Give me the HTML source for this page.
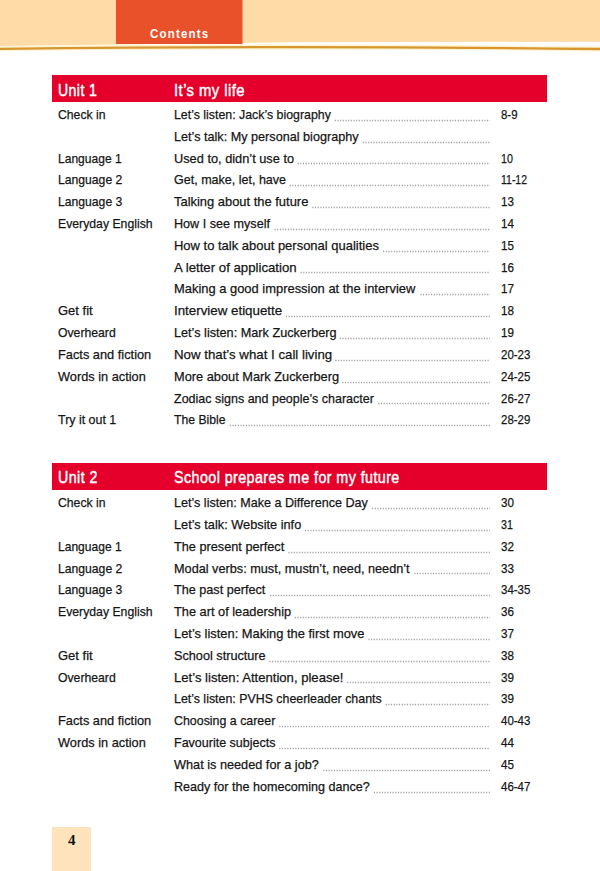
<!DOCTYPE html><html><head><meta charset="utf-8"><style>
*{margin:0;padding:0;box-sizing:border-box}
html,body{width:600px;height:871px;overflow:hidden;background:#fff}
body{position:relative;font-family:"Liberation Sans",sans-serif;color:#151515}
.t,.h{position:absolute;white-space:nowrap;line-height:1.117;transform-origin:0 0}
.t{font-size:13.5px;-webkit-text-stroke:0.25px #151515}
.h{font-size:16.5px;color:#fff;font-weight:normal;-webkit-text-stroke:0.45px #fff;letter-spacing:0.5px}
.bar{position:absolute;left:52px;width:495px;height:27px;background:#e4002b}
.dots{position:absolute;height:1px;background:repeating-linear-gradient(90deg,#a8a8a8 0 1px,transparent 1px 2.7px)}
</style></head><body>
<svg width="600" height="60" style="position:absolute;left:0;top:0">
<polygon points="0,0 600,0 600,41.7 290,42.3 0,46" fill="#fedba7"/>
<path d="M0,48.8 Q290,45.2 600,49" stroke="#fff4d2" stroke-width="5" fill="none"/>
<path d="M0,48.8 Q290,45.2 600,49" stroke="#d8962f" stroke-width="2.3" fill="none"/>
<rect x="116" y="0" width="126.5" height="44" fill="#e9512a"/>
</svg>
<div id="contents" style="position:absolute;left:150.3px;top:28.19px;font-size:12.5px;line-height:1.117;font-weight:bold;color:#fff;letter-spacing:1.3px;transform-origin:0 0;transform:scaleX(0.92)">Contents</div>
<div class="bar" style="top:75px"></div>
<div id="u1h1" class="h" style="left:57.7px;top:80.57px;transform:scaleX(0.8533);">Unit 1</div>
<div id="u1h2" class="h" style="left:174px;top:80.57px;transform:scaleX(0.8974);">It’s my life</div>
<div id="u1r0a" class="t" style="left:57.7px;top:106.88px;transform:scaleX(0.9044);">Check in</div>
<div id="u1r0b" class="t" style="left:174px;top:106.88px;transform:scaleX(0.9152);">Let’s listen: Jack’s biography</div>
<div id="u1r0c" class="t" style="left:500.5px;top:106.88px;transform:scaleX(0.8462);">8-9</div>
<div id="u1r1b" class="t" style="left:174px;top:128.70px;transform:scaleX(0.9365);">Let’s talk: My personal biography</div>
<div id="u1r2a" class="t" style="left:57.7px;top:150.52px;transform:scaleX(0.8920);">Language 1</div>
<div id="u1r2b" class="t" style="left:174px;top:150.52px;transform:scaleX(0.9468);">Used to, didn’t use to</div>
<div id="u1r2c" class="t" style="left:500.5px;top:150.52px;transform:scaleX(0.7931);">10</div>
<div id="u1r3a" class="t" style="left:57.7px;top:172.34px;transform:scaleX(0.9018);">Language 2</div>
<div id="u1r3b" class="t" style="left:174px;top:172.34px;transform:scaleX(0.9275);">Get, make, let, have</div>
<div id="u1r3c" class="t" style="left:500.5px;top:172.34px;transform:scaleX(0.7761);">11-12</div>
<div id="u1r4a" class="t" style="left:57.7px;top:194.16px;transform:scaleX(0.9018);">Language 3</div>
<div id="u1r4b" class="t" style="left:174px;top:194.16px;transform:scaleX(0.9571);">Talking about the future</div>
<div id="u1r4c" class="t" style="left:500.5px;top:194.16px;transform:scaleX(0.8621);">13</div>
<div id="u1r5a" class="t" style="left:57.7px;top:215.98px;transform:scaleX(0.9071);">Everyday English</div>
<div id="u1r5b" class="t" style="left:174px;top:215.98px;transform:scaleX(0.9340);">How I see myself</div>
<div id="u1r5c" class="t" style="left:500.5px;top:215.98px;transform:scaleX(0.8621);">14</div>
<div id="u1r6b" class="t" style="left:174px;top:237.80px;transform:scaleX(0.9615);">How to talk about personal qualities</div>
<div id="u1r6c" class="t" style="left:500.5px;top:237.80px;transform:scaleX(0.8621);">15</div>
<div id="u1r7b" class="t" style="left:174px;top:259.62px;transform:scaleX(0.9784);">A letter of application</div>
<div id="u1r7c" class="t" style="left:500.5px;top:259.62px;transform:scaleX(0.8621);">16</div>
<div id="u1r8b" class="t" style="left:174px;top:281.44px;transform:scaleX(0.9569);">Making a good impression at the interview</div>
<div id="u1r8c" class="t" style="left:500.5px;top:281.44px;transform:scaleX(0.8621);">17</div>
<div id="u1r9a" class="t" style="left:57.7px;top:303.26px;transform:scaleX(0.9614);">Get fit</div>
<div id="u1r9b" class="t" style="left:174px;top:303.26px;transform:scaleX(0.9872);">Interview etiquette</div>
<div id="u1r9c" class="t" style="left:500.5px;top:303.26px;transform:scaleX(0.8621);">18</div>
<div id="u1r10a" class="t" style="left:57.7px;top:325.08px;transform:scaleX(0.9052);">Overheard</div>
<div id="u1r10b" class="t" style="left:174px;top:325.08px;transform:scaleX(0.9390);">Let’s listen: Mark Zuckerberg</div>
<div id="u1r10c" class="t" style="left:500.5px;top:325.08px;transform:scaleX(0.8621);">19</div>
<div id="u1r11a" class="t" style="left:57.7px;top:346.90px;transform:scaleX(0.9486);">Facts and fiction</div>
<div id="u1r11b" class="t" style="left:174px;top:346.90px;transform:scaleX(0.9819);">Now that’s what I call living</div>
<div id="u1r11c" class="t" style="left:500.5px;top:346.90px;transform:scaleX(0.8493);">20-23</div>
<div id="u1r12a" class="t" style="left:57.7px;top:368.72px;transform:scaleX(0.9458);">Words in action</div>
<div id="u1r12b" class="t" style="left:174px;top:368.72px;transform:scaleX(0.9480);">More about Mark Zuckerberg</div>
<div id="u1r12c" class="t" style="left:500.5px;top:368.72px;transform:scaleX(0.8493);">24-25</div>
<div id="u1r13b" class="t" style="left:174px;top:390.54px;transform:scaleX(0.9259);">Zodiac signs and people’s character</div>
<div id="u1r13c" class="t" style="left:500.5px;top:390.54px;transform:scaleX(0.8493);">26-27</div>
<div id="u1r14a" class="t" style="left:57.7px;top:412.36px;transform:scaleX(0.9210);">Try it out 1</div>
<div id="u1r14b" class="t" style="left:174px;top:412.36px;transform:scaleX(0.9035);">The Bible</div>
<div id="u1r14c" class="t" style="left:500.5px;top:412.36px;transform:scaleX(0.8493);">28-29</div>
<div class="bar" style="top:463.3px"></div>
<div id="u2h1" class="h" style="left:57.7px;top:468.27px;transform:scaleX(0.8646);">Unit 2</div>
<div id="u2h2" class="h" style="left:174px;top:468.27px;transform:scaleX(0.8654);">School prepares me for my future</div>
<div id="u2r0a" class="t" style="left:57.7px;top:495.08px;transform:scaleX(0.9044);">Check in</div>
<div id="u2r0b" class="t" style="left:174px;top:495.08px;transform:scaleX(0.9317);">Let’s listen: Make a Difference Day</div>
<div id="u2r0c" class="t" style="left:500.5px;top:495.08px;transform:scaleX(0.8621);">30</div>
<div id="u2r1b" class="t" style="left:174px;top:516.90px;transform:scaleX(0.9455);">Let’s talk: Website info</div>
<div id="u2r1c" class="t" style="left:500.5px;top:516.90px;transform:scaleX(0.7931);">31</div>
<div id="u2r2a" class="t" style="left:57.7px;top:538.72px;transform:scaleX(0.8920);">Language 1</div>
<div id="u2r2b" class="t" style="left:174px;top:538.72px;transform:scaleX(0.9419);">The present perfect</div>
<div id="u2r2c" class="t" style="left:500.5px;top:538.72px;transform:scaleX(0.8621);">32</div>
<div id="u2r3a" class="t" style="left:57.7px;top:560.54px;transform:scaleX(0.9018);">Language 2</div>
<div id="u2r3b" class="t" style="left:174px;top:560.54px;transform:scaleX(0.9402);">Modal verbs: must, mustn’t, need, needn’t</div>
<div id="u2r3c" class="t" style="left:500.5px;top:560.54px;transform:scaleX(0.8621);">33</div>
<div id="u2r4a" class="t" style="left:57.7px;top:582.36px;transform:scaleX(0.9018);">Language 3</div>
<div id="u2r4b" class="t" style="left:174px;top:582.36px;transform:scaleX(0.9367);">The past perfect</div>
<div id="u2r4c" class="t" style="left:500.5px;top:582.36px;transform:scaleX(0.8493);">34-35</div>
<div id="u2r5a" class="t" style="left:57.7px;top:604.18px;transform:scaleX(0.9071);">Everyday English</div>
<div id="u2r5b" class="t" style="left:174px;top:604.18px;transform:scaleX(0.9463);">The art of leadership</div>
<div id="u2r5c" class="t" style="left:500.5px;top:604.18px;transform:scaleX(0.8621);">36</div>
<div id="u2r6b" class="t" style="left:174px;top:626.00px;transform:scaleX(0.9553);">Let’s listen: Making the first move</div>
<div id="u2r6c" class="t" style="left:500.5px;top:626.00px;transform:scaleX(0.8621);">37</div>
<div id="u2r7a" class="t" style="left:57.7px;top:647.82px;transform:scaleX(0.9614);">Get fit</div>
<div id="u2r7b" class="t" style="left:174px;top:647.82px;transform:scaleX(0.9392);">School structure</div>
<div id="u2r7c" class="t" style="left:500.5px;top:647.82px;transform:scaleX(0.8621);">38</div>
<div id="u2r8a" class="t" style="left:57.7px;top:669.64px;transform:scaleX(0.9052);">Overheard</div>
<div id="u2r8b" class="t" style="left:174px;top:669.64px;transform:scaleX(0.9701);">Let’s listen:  Attention, please!</div>
<div id="u2r8c" class="t" style="left:500.5px;top:669.64px;transform:scaleX(0.8621);">39</div>
<div id="u2r9b" class="t" style="left:174px;top:691.46px;transform:scaleX(0.9173);">Let’s listen: PVHS cheerleader chants</div>
<div id="u2r9c" class="t" style="left:500.5px;top:691.46px;transform:scaleX(0.8621);">39</div>
<div id="u2r10a" class="t" style="left:57.7px;top:713.28px;transform:scaleX(0.9486);">Facts and fiction</div>
<div id="u2r10b" class="t" style="left:174px;top:713.28px;transform:scaleX(0.9182);">Choosing a career</div>
<div id="u2r10c" class="t" style="left:500.5px;top:713.28px;transform:scaleX(0.8493);">40-43</div>
<div id="u2r11a" class="t" style="left:57.7px;top:735.10px;transform:scaleX(0.9458);">Words in action</div>
<div id="u2r11b" class="t" style="left:174px;top:735.10px;transform:scaleX(0.9266);">Favourite subjects</div>
<div id="u2r11c" class="t" style="left:500.5px;top:735.10px;transform:scaleX(0.8621);">44</div>
<div id="u2r12b" class="t" style="left:174px;top:756.92px;transform:scaleX(0.9416);">What is needed for a job?</div>
<div id="u2r12c" class="t" style="left:500.5px;top:756.92px;transform:scaleX(0.8621);">45</div>
<div id="u2r13b" class="t" style="left:174px;top:778.74px;transform:scaleX(0.9314);">Ready for the homecoming dance?</div>
<div id="u2r13c" class="t" style="left:500.5px;top:778.74px;transform:scaleX(0.8493);">46-47</div>

<svg width="600" height="871" style="position:absolute;left:0;top:0"><g class="dots" stroke="#9a9a9a" stroke-width="1.3" stroke-dasharray="1.1 1.57"><line x1="334.8" y1="120.5" x2="490" y2="120.5"/><line x1="362.8" y1="142.5" x2="490" y2="142.5"/><line x1="297.6" y1="163.5" x2="490" y2="163.5"/><line x1="289.6" y1="185.5" x2="490" y2="185.5"/><line x1="312.3" y1="207.5" x2="490" y2="207.5"/><line x1="274.5" y1="229.5" x2="490" y2="229.5"/><line x1="383.1" y1="251.5" x2="490" y2="251.5"/><line x1="300.6" y1="272.5" x2="490" y2="272.5"/><line x1="420.4" y1="294.5" x2="490" y2="294.5"/><line x1="285.9" y1="316.5" x2="490" y2="316.5"/><line x1="339.8" y1="338.5" x2="490" y2="338.5"/><line x1="335.4" y1="360.5" x2="490" y2="360.5"/><line x1="342.3" y1="382.5" x2="490" y2="382.5"/><line x1="378.3" y1="403.5" x2="490" y2="403.5"/><line x1="229.8" y1="425.5" x2="490" y2="425.5"/><line x1="372.1" y1="508.5" x2="490" y2="508.5"/><line x1="305.0" y1="530.5" x2="490" y2="530.5"/><line x1="288.5" y1="552.5" x2="490" y2="552.5"/><line x1="414.3" y1="573.5" x2="490" y2="573.5"/><line x1="270.1" y1="595.5" x2="490" y2="595.5"/><line x1="294.7" y1="617.5" x2="490" y2="617.5"/><line x1="368.4" y1="639.5" x2="490" y2="639.5"/><line x1="269.4" y1="661.5" x2="490" y2="661.5"/><line x1="347.1" y1="682.5" x2="490" y2="682.5"/><line x1="385.6" y1="704.5" x2="490" y2="704.5"/><line x1="279.3" y1="726.5" x2="490" y2="726.5"/><line x1="279.3" y1="748.5" x2="490" y2="748.5"/><line x1="323.3" y1="770.5" x2="490" y2="770.5"/><line x1="373.9" y1="792.5" x2="490" y2="792.5"/></g></svg>
<div style="position:absolute;left:52px;top:826.5px;width:39px;height:45px;background:#fee3bd"></div>
<div style="position:absolute;left:68px;top:831.63px;font-family:'Liberation Serif',serif;font-weight:bold;font-size:15px;line-height:1.15;color:#111">4</div>
</body></html>
